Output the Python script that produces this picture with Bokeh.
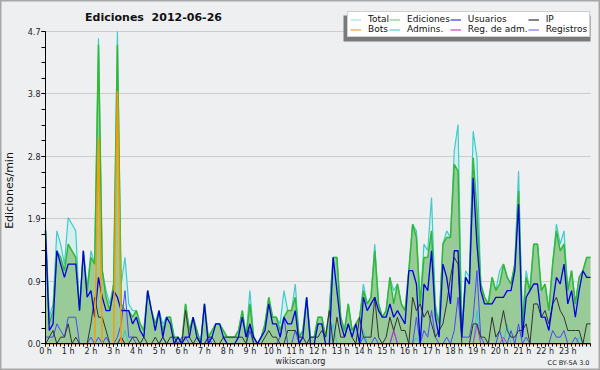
import math
from bokeh.plotting import figure
from bokeh.models import (FixedTicker, Label, Legend, LegendItem, BoxAnnotation, Range1d,
                          LinearAxis, Grid)
from bokeh.embed import file_html
from bokeh.resources import INLINE

# ---- data: edits per minute, 10-minute bins, 2012-06-26 ----
hours = [i / 6 for i in range(145)]

total = [
    1.8, 0.4, 0.6, 1.7, 1.5, 1.2, 1.9, 1.8, 1.7, 0.5, 1.4, 0.8,
    1.4, 1.2, 4.6, 1.1, 0.8, 0.6, 0.9, 4.7, 0.9, 1.3, 0.6, 0.5,
    0.5, 0.3, 0.2, 0.8, 0.5, 0.3, 0.5, 0.3, 0.4, 0.4, 0.1, 0.1,
    0.0, 0.6, 0.2, 0.4, 0.2, 0.0, 0.6, 0.1, 0.2, 0.3, 0.3, 0.2,
    0.1, 0.1, 0.1, 0.2, 0.5, 0.1, 0.8, 0.1, 0.0, 0.1, 0.3, 0.7,
    0.4, 0.4, 0.3, 0.8, 0.5, 0.5, 0.9, 0.1, 0.2, 0.7, 0.1, 0.1,
    0.4, 0.4, 0.1, 0.5, 1.3, 1.3, 0.4, 0.2, 0.6, 0.2, 0.3, 0.4,
    0.9, 0.6, 0.7, 1.5, 0.6, 0.4, 0.5, 1.0, 0.8, 0.9, 0.6, 0.5,
    1.1, 1.8, 1.7, 0.6, 1.5, 1.4, 2.2, 0.6, 0.3, 1.5, 1.7, 1.6,
    2.9, 3.3, 0.2, 1.1, 1.0, 3.2, 2.8, 0.9, 0.7, 0.6, 1.0, 0.8,
    1.1, 1.2, 1.0, 0.9, 1.2, 2.6, 0.3, 1.1, 0.8, 1.5, 1.5, 0.8,
    0.9, 0.5, 1.2, 1.8, 1.5, 1.7, 0.8, 1.1, 0.6, 1.0, 1.1, 1.3,
    1.3]

ediciones = [
    1.7, 0.3, 0.5, 1.4, 1.3, 1.1, 1.5, 1.4, 1.3, 0.5, 1.4, 0.8,
    1.3, 1.2, 4.5, 1.1, 0.7, 0.5, 0.9, 4.5, 0.6, 0.5, 0.5, 0.4,
    0.5, 0.3, 0.2, 0.8, 0.5, 0.3, 0.5, 0.2, 0.4, 0.4, 0.1, 0.1,
    0.0, 0.6, 0.2, 0.4, 0.2, 0.0, 0.6, 0.1, 0.2, 0.3, 0.3, 0.2,
    0.1, 0.1, 0.1, 0.2, 0.5, 0.1, 0.6, 0.1, 0.0, 0.1, 0.3, 0.7,
    0.4, 0.4, 0.2, 0.4, 0.5, 0.5, 0.7, 0.1, 0.2, 0.7, 0.1, 0.1,
    0.4, 0.4, 0.1, 0.5, 1.3, 1.3, 0.4, 0.2, 0.6, 0.2, 0.3, 0.4,
    0.8, 0.6, 0.7, 1.4, 0.6, 0.4, 0.5, 1.0, 0.6, 0.9, 0.6, 0.5,
    1.1, 1.8, 1.6, 0.6, 1.3, 1.3, 1.7, 0.5, 0.3, 1.5, 1.6, 1.6,
    2.7, 2.6, 0.1, 1.0, 0.9, 2.8, 2.0, 0.9, 0.7, 0.6, 1.0, 0.8,
    0.9, 1.2, 1.0, 0.9, 1.2, 2.3, 0.3, 1.0, 0.8, 1.5, 1.5, 0.8,
    0.9, 0.5, 1.2, 1.7, 1.4, 1.5, 0.8, 1.1, 0.6, 1.0, 1.1, 1.3,
    1.3]

usuarios = [
    1.7, 0.2, 0.3, 1.4, 1.2, 1.0, 1.2, 1.2, 1.2, 0.5, 1.4, 0.7,
    0.8, 0.4, 1.0, 0.7, 0.5, 0.5, 0.8, 0.7, 0.5, 0.5, 0.5, 0.3,
    0.4, 0.2, 0.1, 0.8, 0.5, 0.2, 0.5, 0.1, 0.4, 0.3, 0.0, 0.1,
    0.0, 0.1, 0.1, 0.4, 0.1, 0.0, 0.6, 0.0, 0.1, 0.3, 0.3, 0.1,
    0.0, 0.0, 0.0, 0.1, 0.4, 0.1, 0.3, 0.1, 0.0, 0.1, 0.2, 0.6,
    0.3, 0.3, 0.1, 0.4, 0.3, 0.3, 0.5, 0.0, 0.1, 0.7, 0.0, 0.0,
    0.3, 0.3, 0.0, 0.0, 1.3, 0.8, 0.3, 0.1, 0.3, 0.1, 0.3, 0.0,
    0.7, 0.5, 0.6, 0.7, 0.5, 0.4, 0.4, 0.6, 0.4, 0.5, 0.4, 0.3,
    1.1, 1.1, 0.9, 0.0, 0.9, 0.8, 1.4, 0.4, 0.1, 1.2, 1.0, 0.6,
    1.4, 1.4, 0.1, 1.0, 0.9, 2.5, 1.5, 0.8, 0.6, 0.6, 0.6, 0.7,
    0.7, 0.7, 0.8, 0.8, 1.1, 2.1, 0.1, 0.7, 0.8, 0.9, 0.9, 0.4,
    0.4, 0.2, 0.6, 1.0, 0.9, 1.2, 0.6, 0.8, 0.4, 0.8, 1.1, 1.0,
    1.0]

ip = [
    0.0, 0.1, 0.2, 0.0, 0.1, 0.1, 0.3, 0.0, 0.1, 0.0, 0.0, 0.0,
    0.3, 0.7, 0.4, 0.4, 0.2, 0.0, 0.0, 0.0, 0.1, 0.0, 0.0, 0.1,
    0.1, 0.0, 0.1, 0.0, 0.0, 0.1, 0.0, 0.1, 0.0, 0.1, 0.1, 0.0,
    0.0, 0.5, 0.1, 0.0, 0.1, 0.0, 0.0, 0.1, 0.1, 0.0, 0.0, 0.1,
    0.1, 0.1, 0.1, 0.1, 0.1, 0.0, 0.3, 0.0, 0.0, 0.0, 0.1, 0.2,
    0.1, 0.1, 0.0, 0.0, 0.2, 0.2, 0.2, 0.1, 0.1, 0.0, 0.1, 0.1,
    0.1, 0.2, 0.1, 0.5, 0.0, 0.4, 0.1, 0.1, 0.3, 0.1, 0.0, 0.4,
    0.1, 0.1, 0.1, 0.7, 0.1, 0.0, 0.1, 0.4, 0.2, 0.4, 0.2, 0.2,
    0.0, 0.7, 0.5, 0.6, 0.4, 0.5, 0.3, 0.1, 0.2, 0.3, 0.6, 1.0,
    1.3, 1.2, 0.0, 0.0, 0.0, 0.3, 0.3, 0.1, 0.1, 0.0, 0.4, 0.1,
    0.2, 0.5, 0.2, 0.1, 0.1, 0.2, 0.2, 0.3, 0.0, 0.6, 0.6, 0.4,
    0.5, 0.3, 0.6, 0.7, 0.5, 0.4, 0.2, 0.2, 0.2, 0.2, 0.0, 0.3,
    0.3]

bots = [
    0, 0, 0, 0, 0, 0, 0, 0, 0, 0, 0, 0,
    0, 0, 3.1, 0, 0, 0, 0, 3.8, 0, 0, 0, 0,
    0, 0, 0, 0, 0, 0, 0, 0, 0, 0, 0, 0,
    0, 0, 0, 0, 0, 0, 0, 0, 0, 0, 0, 0,
    0, 0, 0, 0, 0, 0, 0, 0, 0, 0, 0, 0,
    0, 0, 0, 0, 0, 0, 0, 0, 0, 0, 0, 0,
    0, 0, 0, 0, 0, 0, 0, 0, 0, 0, 0, 0,
    0, 0, 0, 0, 0, 0, 0, 0, 0, 0, 0, 0,
    0, 0, 0, 0, 0, 0, 0, 0, 0, 0, 0, 0,
    0, 0, 0, 0, 0, 0, 0, 0, 0, 0, 0, 0,
    0, 0, 0, 0, 0, 0, 0, 0, 0, 0, 0, 0,
    0, 0, 0, 0, 0, 0, 0, 0, 0, 0, 0, 0,
    0]

admins = [
    0, 0, 0, 0, 0, 0, 0, 0, 0, 0, 0, 0,
    0, 0, 0, 0, 0, 0, 0, 0, 0, 0.2, 0, 0,
    0, 0, 0, 0, 0, 0, 0, 0, 0, 0, 0, 0,
    0, 0, 0, 0, 0, 0, 0, 0, 0, 0, 0, 0,
    0, 0, 0, 0, 0, 0, 0.2, 0, 0, 0, 0, 0,
    0, 0, 0, 0, 0, 0, 0, 0, 0, 0, 0, 0,
    0, 0, 0, 0, 0.3, 0, 0, 0, 0, 0, 0, 0,
    0.2, 0, 0, 0, 0, 0, 0, 0, 0, 0, 0, 0,
    0, 0, 0.1, 0, 0, 0, 0, 0, 0, 0, 0, 0,
    0, 0, 0, 0, 0, 0, 0.5, 0, 0, 0, 0, 0,
    0, 0, 0.3, 0, 0, 0, 0, 0, 0, 0, 0, 0,
    0, 0, 0, 0, 0, 0, 0, 0, 0, 0.1, 0, 0,
    0]

reg_adm = [
    0, 0, 0, 0, 0, 0, 0, 0, 0, 0, 0, 0,
    0, 0, 0, 0, 0, 0, 0, 0, 0.1, 0, 0, 0,
    0, 0, 0, 0, 0, 0, 0, 0, 0, 0, 0, 0,
    0, 0, 0, 0, 0, 0, 0, 0, 0, 0, 0, 0,
    0, 0, 0, 0, 0, 0, 0, 0, 0, 0, 0, 0,
    0, 0, 0, 0, 0, 0, 0, 0, 0, 0, 0, 0,
    0, 0, 0, 0, 0, 0, 0, 0, 0, 0, 0, 0,
    0, 0, 0, 0, 0, 0, 0, 0, 0.2, 0, 0, 0,
    0, 0, 0, 0, 0, 0, 0, 0, 0, 0, 0, 0,
    0, 0, 0, 0, 0, 0, 0.3, 0, 0, 0, 0, 0,
    0, 0.1, 0, 0, 0, 0, 0, 0, 0, 0, 0, 0,
    0, 0, 0, 0, 0, 0, 0, 0, 0, 0, 0, 0,
    0]

registros = [
    0.1, 0.1, 0.1, 0.3, 0.2, 0.1, 0.4, 0.4, 0.4, 0.0, 0.0, 0.0,
    0.1, 0.0, 0.1, 0.0, 0.1, 0.0, 0.0, 0.1, 0.3, 0.8, 0.1, 0.1,
    0.0, 0.0, 0.0, 0.0, 0.0, 0.0, 0.0, 0.1, 0.0, 0.0, 0.0, 0.0,
    0.1, 0.1, 0.0, 0.0, 0.0, 0.0, 0.0, 0.1, 0.0, 0.0, 0.0, 0.0,
    0.0, 0.0, 0.0, 0.0, 0.0, 0.0, 0.2, 0.0, 0.0, 0.0, 0.0, 0.0,
    0.0, 0.0, 0.1, 0.4, 0.0, 0.0, 0.2, 0.0, 0.0, 0.0, 0.0, 0.0,
    0.0, 0.0, 0.0, 0.0, 0.0, 0.0, 0.0, 0.0, 0.0, 0.0, 0.0, 0.0,
    0.1, 0.0, 0.0, 0.1, 0.0, 0.0, 0.0, 0.0, 0.2, 0.0, 0.0, 0.0,
    0.0, 0.0, 0.4, 0.0, 0.2, 0.1, 0.5, 0.1, 0.0, 0.0, 0.1, 0.0,
    0.2, 0.7, 0.1, 0.1, 0.1, 0.4, 1.1, 0.1, 0.0, 0.0, 0.0, 0.0,
    0.2, 0.0, 0.0, 0.2, 0.0, 0.3, 0.0, 0.1, 0.0, 0.0, 0.0, 0.0,
    0.0, 0.0, 0.2, 0.1, 0.1, 0.2, 0.0, 0.0, 0.1, 0.0, 0.0, 0.0,
    0.0]

hour_ticks = list(range(24))
hour_labels = [f"{h} h" for h in hour_ticks]
y_ticks = [0, 0.94, 1.88, 2.82, 3.76, 4.7]
y_labels = ["0.0", "0.9", "1.9", "2.8", "3.8", "4.7"]

legend_labels = ["Total", "Ediciones", "Usuarios", "IP",
                 "Bots", "Admins.", "Reg. de adm.", "Registros"]
legend_colors = ["#a8e2da", "#88cc88", "#3b3bd6", "#333333",
                 "#f2a040", "#55cce0", "#cc44cc", "#7777ee"]
legend_series = [total, ediciones, usuarios, ip, bots, admins, reg_adm, registros]

FONT = "DejaVu Sans"
W, H = 600, 370
# plot-area geometry in canvas pixels (x of 0 h / 24 h, y of 0 / 4.7)
X0, X1, Y0, Y1 = 45.0, 590.0, 343.3, 31.0
PXH = (X1 - X0) / 24.0
PXV = (Y0 - Y1) / 4.7

p = figure(width=W, height=H,
           x_range=Range1d(-X0 / PXH, 24 + (W - X1) / PXH),
           y_range=Range1d(-(H - Y0) / PXV, 4.7 + Y1 / PXV),
           x_axis_location=None, y_axis_location=None, title=None,
           output_backend="svg", toolbar_location=None, min_border=0,
           background_fill_color="#eeeff1", border_fill_color="#eeeff1",
           outline_line_color="#a8a8a8", outline_line_width=2)
for g in p.xgrid + p.ygrid:
    g.visible = False

grid = Grid(dimension=1, ticker=FixedTicker(ticks=y_ticks), grid_line_color="#cccccc",
            cross_bounds=(0, 24))
p.add_layout(grid)

xaxis = LinearAxis(fixed_location=0, bounds=(0, 24),
                   ticker=FixedTicker(ticks=hour_ticks, minor_ticks=[i / 6 for i in range(145)]),
                   major_label_overrides=dict(zip(hour_ticks, hour_labels)))
yaxis = LinearAxis(fixed_location=0, bounds=(0, 4.7),
                   ticker=FixedTicker(ticks=y_ticks, minor_ticks=[k * 0.235 for k in range(21)]),
                   major_label_overrides=dict(zip(y_ticks, y_labels)))
for ax in (xaxis, yaxis):
    ax.axis_line_color = "black"
    ax.major_tick_line_color = "black"
    ax.minor_tick_line_color = "black"
    ax.major_tick_in = 0
    ax.minor_tick_in = 0
    ax.major_label_text_font = FONT
    ax.major_label_text_font_size = "8px"
    ax.major_label_text_color = "#222222"
    ax.major_label_standoff = 1
xaxis.major_tick_out = 3
xaxis.minor_tick_out = 3
xaxis.major_label_standoff = 0
yaxis.major_tick_out = 4
yaxis.minor_tick_out = 4

# areas
p.varea(x=hours, y1=0, y2=total, fill_color="#d4efee")
p.varea(x=hours, y1=0, y2=ediciones, fill_color="#98cb98")

# lines
p.line(hours, total, line_color="#3fcccc", line_width=1.2)
p.line(hours, ediciones, line_color="#33b833", line_width=1.5)
p.line(hours, admins, line_color="#33cccc", line_width=1)
p.line(hours, registros, line_color="#4848ff", line_width=1)
p.line(hours, reg_adm, line_color="#cc33cc", line_width=1)
p.line(hours, ip, line_color="#333333", line_width=1)
p.line(hours, usuarios, line_color="#0000e0", line_width=1.3)
p.line(hours, bots, line_color="#ff9900", line_width=1.5)

p.add_layout(xaxis, "below")
p.add_layout(yaxis, "left")

# legend: hidden copies of the series, used only for the legend samples
items = []
for lab, col, ys in zip(legend_labels, legend_colors, legend_series):
    r = p.line(hours, ys, line_color=col, line_width=1.2, visible=False)
    items.append(LegendItem(label=lab, renderers=[r]))

shadow = BoxAnnotation(left=343, right=590, top=15, bottom=41,
                       left_units="canvas", right_units="canvas",
                       top_units="canvas", bottom_units="canvas",
                       fill_color="#7a7a7a", fill_alpha=1, line_color=None)
p.add_layout(shadow)

legend = Legend(items=items, location=(347, H - 37), orientation="horizontal", ncols=4,
                label_text_font=FONT, label_text_font_size="9px", label_text_color="#111111",
                glyph_width=11, glyph_height=9, label_height=9, label_standoff=7,
                spacing=0, padding=2, margin=0,
                inactive_fill_alpha=0,
                background_fill_color="white", background_fill_alpha=1,
                border_line_color="#a0a0a0")
p.add_layout(legend)

# texts
p.add_layout(Label(x=153, y=H - 17, x_units="screen", y_units="screen",
                   text="Ediciones\u00a0 2012-06-26", text_font=FONT, text_font_style="bold",
                   text_font_size="11px", text_align="center", text_baseline="middle",
                   text_color="#111111"))
p.add_layout(Label(x=9, y=H - 190, x_units="screen", y_units="screen", angle=math.pi / 2,
                   text="Ediciones/min", text_font=FONT, text_font_size="11px",
                   text_align="center", text_baseline="middle", text_color="#111111"))
p.add_layout(Label(x=300, y=H - 361, x_units="screen", y_units="screen",
                   text="wikiscan.org", text_font=FONT, text_font_size="8px",
                   text_align="center", text_baseline="middle", text_color="#222222"))
p.add_layout(Label(x=589, y=H - 362, x_units="screen", y_units="screen",
                   text="CC BY-SA 3.0", text_font=FONT, text_font_size="6.5px",
                   text_align="right", text_baseline="middle", text_color="#222222"))

open("out.html", "w").write(file_html(p, INLINE))
